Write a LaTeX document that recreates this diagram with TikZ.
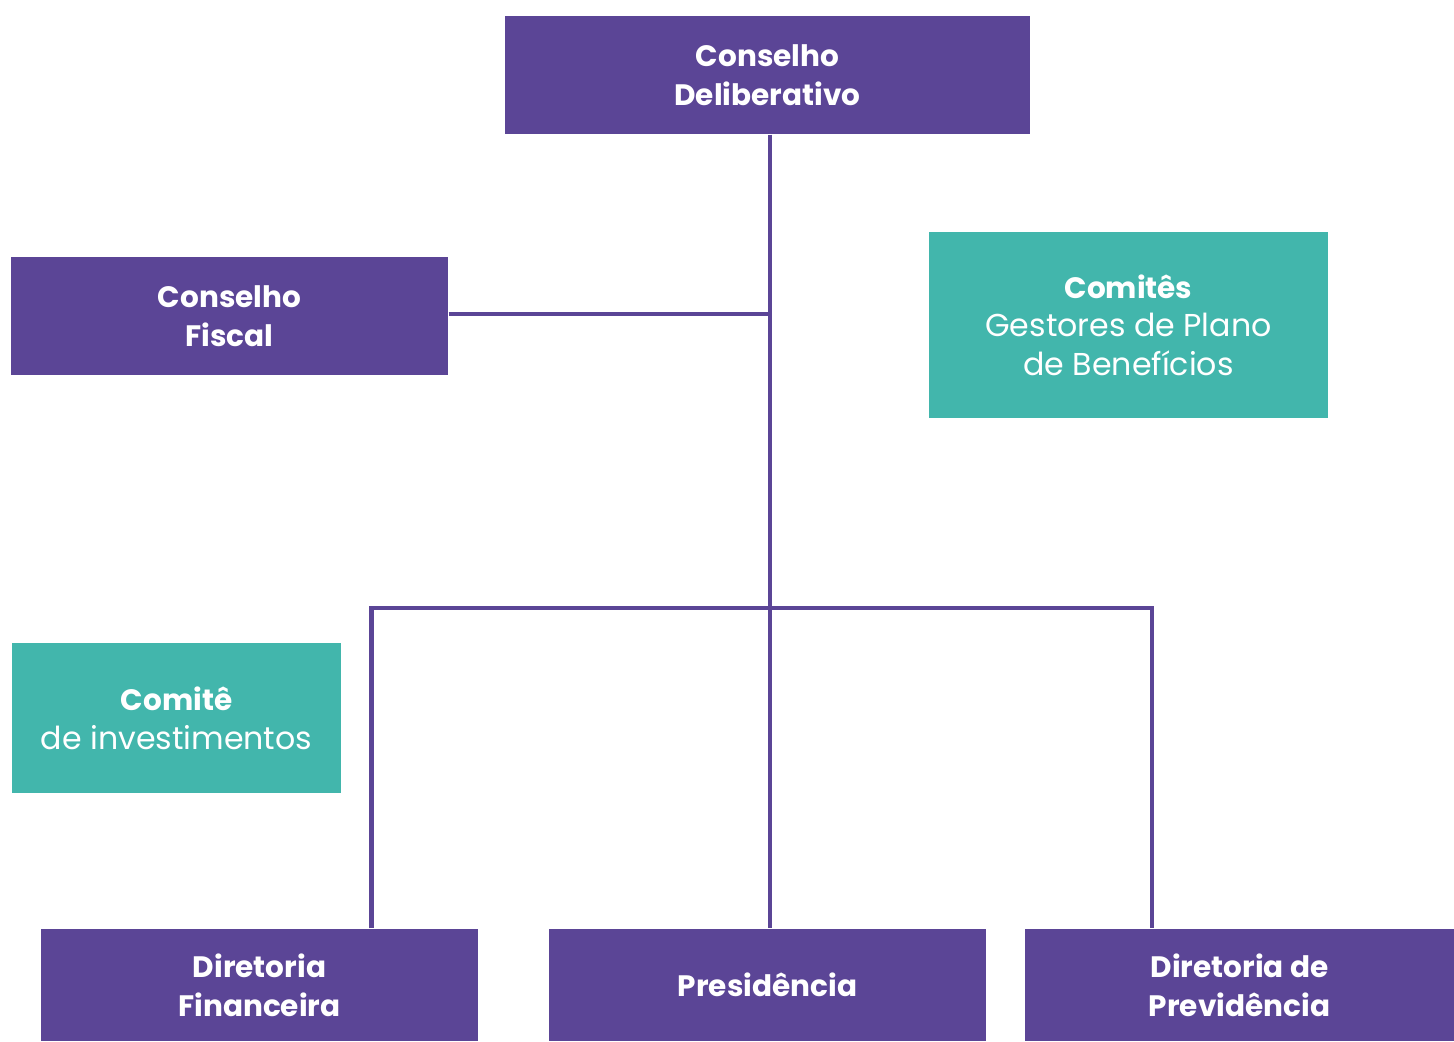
\documentclass[tikz,border=0pt]{standalone}
\usepackage{fontspec}
\setmainfont{Poppins}
\usepackage{tikz}
\definecolor{roxo}{HTML}{5B4596}
\definecolor{verde}{HTML}{42B6AC}
\tikzset{
  purplebox/.style={fill=roxo,text=white,align=center,inner sep=0pt,font=\fontsize{8.4}{11}\selectfont\bfseries},
  tealbox/.style={fill=verde,text=white,align=center,inner sep=0pt,font=\fontsize{9}{11}\selectfont},
  link/.style={draw=roxo,line width=1.4pt}
}

\begin{document}
\begin{tikzpicture}
                \useasboundingbox (0,0) rectangle (14.54,10.41);
                \node[purplebox,minimum width=5.25cm,minimum height=1.18cm] (delib) at (7.675,9.66) {Conselho\\Deliberativo};
                \node[purplebox,minimum width=4.37cm,minimum height=1.18cm] (fiscal) at (2.295,7.25) {Conselho\\Fiscal};
                \node[tealbox,minimum width=3.99cm,minimum height=1.86cm] (gestores) at (11.285,7.16) {{\fontsize{8.4}{11}\selectfont\bfseries Comitês}\\Gestores de Plano\\de Benefícios};
                \node[tealbox,minimum width=3.29cm,minimum height=1.50cm] (invest) at (1.765,3.23) {{\fontsize{8.4}{11}\selectfont\bfseries Comitê}\\de investimentos};
                \node[purplebox,minimum width=4.37cm,minimum height=1.12cm] (financ) at (2.595,0.56) {Diretoria\\Financeira};
                \node[purplebox,minimum width=4.37cm,minimum height=1.12cm] (presid) at (7.675,0.56) {Presidência};
                \node[purplebox,minimum width=4.29cm,minimum height=1.12cm] (previd) at (12.395,0.56) {Diretoria de\\Previdência};
                \coordinate (bus) at (7.70,4.33);
                \coordinate (busL) at (3.715,4.33);
                \coordinate (busR) at (11.52,4.33);
                \coordinate (fiscalR) at ([yshift=0.02cm]fiscal.east);
                \draw[link] (delib.south -| bus) -- (presid.north -| bus);
                \draw[link] (fiscalR) -- (fiscalR -| bus);
                \draw[link] (financ.north -| busL) -- (busL) -- (busR) -- (previd.north -| busR);
            \end{tikzpicture}
\end{document}
